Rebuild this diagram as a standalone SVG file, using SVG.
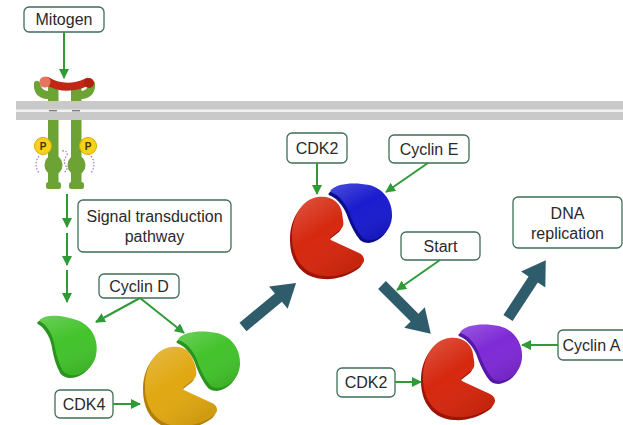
<svg xmlns="http://www.w3.org/2000/svg" xmlns:xlink="http://www.w3.org/1999/xlink" width="623" height="425" viewBox="0 0 623 425">
  <style>
    .box { fill: #ffffff; stroke: #3f6e55; stroke-width: 1.3; }
    .lbl { font-family: "Liberation Sans", Arial, sans-serif; font-size: 16px; fill: #2a2a2a; text-anchor: middle; }
    .link { fill: none; stroke: #2f9a36; stroke-width: 2; marker-end: url(#tip); }
    .flow { fill: #2f5c6b; }
    .bar { fill: #6da234; }
    .dots { fill: none; stroke: #a378b4; stroke-width: 1.2; stroke-dasharray: 1.6 1.6; }
    .gap { fill: #ffffff; stroke: #ffffff; stroke-width: 4; stroke-linejoin: round; }
  </style>
  <defs>
    <marker id="tip" markerUnits="userSpaceOnUse" markerWidth="10" markerHeight="10" refX="9" refY="5" orient="auto">
      <path d="M0,0 L10,5 L0,10 Z" fill="#2f9a36"/>
    </marker>
    <!-- kinase body: blob with a wedge-shaped notch on the right -->
    <path id="cdk" d="M -7,-38 C 6,-40 16,-32 17,-22 C 18,-14 20,-10 16,-6 L 7,1 C 4,3 5,5 8,6 L 34,18 C 40,21 41,27 35,31 C 25,38 12,42 0,41 C -20,40 -33,25 -33,2 C -33,-20 -22,-36 -7,-38 Z"/>
    <!-- cyclin: half-disc whose lower-left side curves in to fit the kinase -->
    <path id="cyc" d="M -30,-23 C -24,-30 -6,-31 8,-28 C 24,-24 32,-10 31,4 C 30,16 22,25 10,27 C 6,27 3,26 1,24 C -4,18 -8,10 -11,2 C -14,-8 -21,-17 -28,-20 C -31,-21 -31,-22 -30,-23 Z"/>
    <linearGradient id="shine" x1="0" y1="0" x2="0.6" y2="1">
      <stop offset="0" stop-color="#ffffff" stop-opacity="0.22"/>
      <stop offset="0.5" stop-color="#ffffff" stop-opacity="0"/>
      <stop offset="1" stop-color="#000000" stop-opacity="0.08"/>
    </linearGradient>
    <!-- thick block arrow pointing along +x, length 69 -->
    <path id="block" d="M 0,-5.5 L 46,-5.5 L 46,-14.5 L 69,0 L 46,14.5 L 46,5.5 L 0,5.5 Z"/>
  </defs>

  <!-- membrane -->
  <g id="membrane">
    <rect x="16" y="101" width="607" height="19" fill="#c9c9c9"/>
    <rect x="16" y="109.5" width="607" height="2.5" fill="#f1f1f1"/>
  </g>

  <!-- receptor pair with bound ligand -->
  <g id="receptor">
    <rect class="bar" x="48" y="84" width="10.5" height="17"/>
    <rect class="bar" x="71" y="84" width="10.5" height="17"/>
    <rect class="bar" x="48" y="120" width="10.5" height="66"/>
    <rect class="bar" x="71" y="120" width="10.5" height="66"/>
    <path class="bar" d="M 48,99 C 38,99 33,92 34,83 C 35,80 39,80 40,83 C 41,88 44,91 48,91 Z"/>
    <path class="bar" d="M 81,99 C 91,99 96,92 95,83 C 94,80 90,80 89,83 C 88,88 85,91 81,91 Z"/>
    <rect x="49" y="110" width="8" height="1.4" fill="#7d7d7d"/>
    <rect x="72" y="110" width="8" height="1.4" fill="#7d7d7d"/>
    <ellipse class="bar" cx="53.5" cy="165" rx="9" ry="10"/>
    <ellipse class="bar" cx="76.5" cy="165" rx="9" ry="10"/>
    <rect class="bar" x="46" y="182" width="15" height="7" rx="2.5"/>
    <rect class="bar" x="69" y="182" width="15" height="7" rx="2.5"/>
    <path d="M 47,81 Q 66,92 87,82" fill="none" stroke="#c22616" stroke-width="8" stroke-linecap="round"/>
    <circle cx="45" cy="82" r="5.5" fill="#e8735f"/>
    <circle cx="89" cy="83" r="5" fill="#b31f10"/>
    <circle cx="43" cy="146" r="8.5" fill="#f6d31a" stroke="#d9a900" stroke-width="1"/>
    <circle cx="88" cy="146" r="8.5" fill="#f6d31a" stroke="#d9a900" stroke-width="1"/>
    <text x="43" y="150" font-family="Liberation Sans, Arial, sans-serif" font-size="10" font-weight="bold" fill="#4a3000" text-anchor="middle">P</text>
    <text x="88" y="150" font-family="Liberation Sans, Arial, sans-serif" font-size="10" font-weight="bold" fill="#4a3000" text-anchor="middle">P</text>
    <path class="dots" d="M 39,156 Q 33,164 39,173"/>
    <path class="dots" d="M 91,156 Q 97,164 91,173"/>
    <path class="dots" d="M 62,151 Q 68,150 67,156 Q 62,160 66,166 Q 69,170 63,173"/>
  </g>

  <!-- proteins: kinases first, cyclins on top with a white rim -->
  <g id="cdk4" transform="translate(178,385)">
    <use xlink:href="#cdk" fill="#b27f08" transform="translate(-2,3)"/>
    <use xlink:href="#cdk" fill="#e0a812"/>
    <use xlink:href="#cdk" fill="url(#shine)"/>
  </g>
  <g id="cdk2-e" transform="translate(325,235)">
    <use xlink:href="#cdk" fill="#9d140a" transform="translate(-2,3)"/>
    <use xlink:href="#cdk" fill="#d6280f"/>
    <use xlink:href="#cdk" fill="url(#shine)"/>
  </g>
  <g id="cdk2-a" transform="translate(456,376)">
    <use xlink:href="#cdk" fill="#9d140a" transform="translate(-2,3)"/>
    <use xlink:href="#cdk" fill="#d6280f"/>
    <use xlink:href="#cdk" fill="url(#shine)"/>
  </g>
  <g id="cyclinD-free" transform="translate(66,347) rotate(10)">
    <use xlink:href="#cyc" fill="#2c9320" transform="translate(-2,3)"/>
    <use xlink:href="#cyc" fill="#43c32c"/>
    <use xlink:href="#cyc" fill="url(#shine)"/>
  </g>
  <g id="cyclinD-bound" transform="translate(209,361)">
    <use xlink:href="#cyc" class="gap" transform="translate(-1,1.5)"/>
    <use xlink:href="#cyc" fill="#2c9320" transform="translate(-2,3)"/>
    <use xlink:href="#cyc" fill="#43c32c"/>
    <use xlink:href="#cyc" fill="url(#shine)"/>
  </g>
  <g id="cyclinE" transform="translate(361,213)">
    <use xlink:href="#cyc" class="gap" transform="translate(-1,1.5)"/>
    <use xlink:href="#cyc" fill="#0b0d8c" transform="translate(-2,3)"/>
    <use xlink:href="#cyc" fill="#1a1ccf"/>
    <use xlink:href="#cyc" fill="url(#shine)"/>
  </g>
  <g id="cyclinA" transform="translate(491,354)">
    <use xlink:href="#cyc" class="gap" transform="translate(-1,1.5)"/>
    <use xlink:href="#cyc" fill="#5617a6" transform="translate(-2,3)"/>
    <use xlink:href="#cyc" fill="#7e2ad6"/>
    <use xlink:href="#cyc" fill="url(#shine)"/>
  </g>

  <!-- labels -->
  <g id="mitogen"><rect class="box" x="24" y="7" width="80" height="25" rx="5"/><text class="lbl" x="64" y="25">Mitogen</text></g>
  <g id="signal"><rect class="box" x="78" y="200" width="153" height="52" rx="5"/><text class="lbl" x="154.5" y="222">Signal transduction</text><text class="lbl" x="154.5" y="242">pathway</text></g>
  <g id="cyclinD-label"><rect class="box" x="99" y="274" width="80" height="24" rx="5"/><text class="lbl" x="139" y="292">Cyclin D</text></g>
  <g id="cdk4-label"><rect class="box" x="55" y="390" width="58" height="28" rx="5"/><text class="lbl" x="84" y="410">CDK4</text></g>
  <g id="cdk2-label-top"><rect class="box" x="287" y="133" width="60" height="30" rx="5"/><text class="lbl" x="317" y="154">CDK2</text></g>
  <g id="cyclinE-label"><rect class="box" x="389" y="135" width="80" height="28" rx="5"/><text class="lbl" x="429" y="155">Cyclin E</text></g>
  <g id="start"><rect class="box" x="401" y="232" width="79" height="28" rx="5"/><text class="lbl" x="440.5" y="252">Start</text></g>
  <g id="dna"><rect class="box" x="513" y="197" width="109" height="51" rx="5"/><text class="lbl" x="567.5" y="219">DNA</text><text class="lbl" x="567.5" y="239">replication</text></g>
  <g id="cyclinA-label"><rect class="box" x="558" y="330" width="75" height="30" rx="5"/><text class="lbl" x="562.5" y="351" style="text-anchor:start">Cyclin A</text></g>
  <g id="cdk2-label-low"><rect class="box" x="337" y="368" width="58" height="29" rx="5"/><text class="lbl" x="366" y="388">CDK2</text></g>

  <!-- connectors -->
  <g id="connectors">
    <path class="link" d="M 64,32 L 64,78"/>
    <path class="link" d="M 67,194 L 67,227"/>
    <path class="link" d="M 67,233 L 67,265"/>
    <path class="link" d="M 67,270 L 67,302"/>
    <path class="link" d="M 140,298 L 96,322"/>
    <path class="link" d="M 140,298 L 184,333"/>
    <path class="link" d="M 113,404 L 140,404"/>
    <path class="link" d="M 317,163 L 317,194"/>
    <path class="link" d="M 428,163 L 386,192"/>
    <path class="link" d="M 440,260 L 397,290"/>
    <path class="link" d="M 558,345 L 522,345"/>
    <path class="link" d="M 395,382 L 421,382"/>
    <use class="flow" xlink:href="#block" transform="translate(243,327) rotate(-39.7)"/>
    <use class="flow" xlink:href="#block" transform="translate(382,285) rotate(45)"/>
    <use class="flow" xlink:href="#block" transform="translate(508,318) rotate(-56.8)"/>
  </g>
</svg>
